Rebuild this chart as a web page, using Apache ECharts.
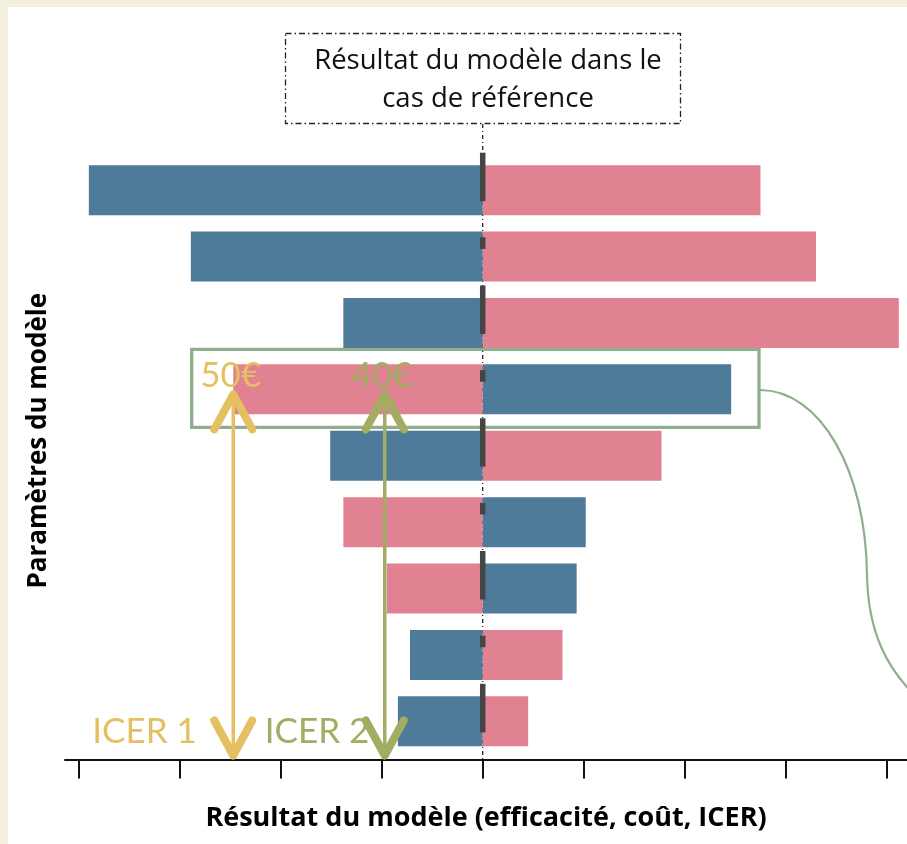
<!DOCTYPE html>
<html>
<head>
<meta charset="utf-8">
<script src="https://cdn.jsdelivr.net/npm/echarts@6/dist/echarts.min.js"></script>
<style>
  html, body { margin: 0; padding: 0; background: #f3efdf; }
  #tornado { width: 907px; height: 844px; }
</style>
</head>
<body>
<div id="tornado"></div>
<script>
// paramètres du modèle (sans étiquette sur le graphique)
const parametres = ['P1', 'P2', 'P3', 'P4', 'P5', 'P6', 'P7', 'P8', 'P9'];
// borne basse (bleu) et borne haute (rose), écart au cas de référence
const borneBleue = [-39.0, -28.9, -13.8, 24.6, -15.1, 10.2, 9.3, -7.2, -8.4];
const borneRose = [27.5, 33.0, 41.2, -24.7, 17.7, -13.8, -9.5, 7.9, 4.5];
const graduations = [-40, -30, -20, -10, 0, 10, 20, 30, 40];
// seuils ICER
const icerValeurs = [-24.7, -9.7];
const icerPrix = ['50€', '40€'];
const icerNoms = ['ICER 1', 'ICER 2'];

const BLEU = '#4d7b99';
const ROSE = '#e08292';
const ICER_COULEURS = ['#e5c063', '#a2ad63'];
const VERT = '#8fae8e';
const FONT = 'Lato';
const FONT_TITRE = 'Open Sans';

const chart = echarts.init(document.getElementById('tornado'));

const option = {
  animation: false,
  backgroundColor: '#f3efdf',
  title: {
    text: 'Résultat du modèle dans le\ncas de référence',
    left: 483,
    top: 37,
    textAlign: 'center',
    textStyle: {
      fontFamily: FONT_TITRE,
      fontSize: 27.5,
      fontWeight: 'normal',
      color: '#111',
      lineHeight: 38,
    },
  },
  grid: { left: 65, right: 0, top: 157, bottom: 89.5 },
  xAxis: {
    type: 'value',
    min: -41.36,
    max: 42.01,
    offset: 5,
    splitLine: { show: false },
    axisLine: { show: true, lineStyle: { color: '#111', width: 2 } },
    axisTick: {
      show: true,
      customValues: graduations,
      length: 19,
      lineStyle: { color: '#111', width: 2 },
    },
    axisLabel: { show: false },
    name: 'Résultat du modèle (efficacité, coût, ICER)',
    nameLocation: 'middle',
    nameGap: 45,
    nameTextStyle: { fontFamily: FONT_TITRE, fontWeight: 'bold', fontSize: 27, color: '#000' },
  },
  yAxis: {
    type: 'category',
    data: parametres,
    inverse: true,
    axisLine: { show: false },
    axisTick: { show: false },
    axisLabel: { show: false },
    name: 'Paramètres du modèle',
    nameLocation: 'middle',
    nameRotate: 90,
    nameGap: 13,
    nameTextStyle: {
      fontFamily: FONT_TITRE,
      fontWeight: 'bold',
      fontSize: 26,
      color: '#000',
      padding: [0, 0, 0, 30],
    },
  },
  graphic: [
    { type: 'rect', z: -10, shape: { x: 8, y: 7, width: 899, height: 837 }, style: { fill: '#fff' } },
    {
      type: 'rect',
      shape: { x: 285.5, y: 33.5, width: 395, height: 90 },
      style: { fill: null, stroke: '#222', lineWidth: 1.3, lineDash: [6, 3, 1.5, 3] },
    },
    {
      type: 'line',
      shape: { x1: 482.7, y1: 124, x2: 482.7, y2: 759 },
      style: { stroke: '#222', lineWidth: 1.3, lineDash: [4, 3, 1, 3] },
    },
    {
      type: 'rect',
      shape: { x: 191.7, y: 349.3, width: 567.3, height: 78 },
      style: { fill: null, stroke: VERT, lineWidth: 3.3 },
    },
    {
      type: 'bezierCurve',
      shape: { x1: 760, y1: 390, cpx1: 820, cpy1: 390, cpx2: 866, cpy2: 470, x2: 867, y2: 575 },
      style: { fill: null, stroke: VERT, lineWidth: 2.2 },
    },
    {
      type: 'bezierCurve',
      shape: { x1: 867, y1: 575, cpx1: 868, cpy1: 630, cpx2: 885, cpy2: 670, x2: 925, y2: 705 },
      style: { fill: null, stroke: VERT, lineWidth: 2.2 },
    },
  ],
  series: [
    {
      name: 'borne bleue',
      type: 'bar',
      data: borneBleue,
      barWidth: 50,
      itemStyle: { color: BLEU },
    },
    {
      name: 'borne rose',
      type: 'bar',
      data: borneRose,
      barWidth: 50,
      barGap: '-100%',
      itemStyle: { color: ROSE },
    },
    {
      // repères du cas de référence sur l'axe central
      name: 'référence',
      type: 'custom',
      z: 4,
      silent: true,
      data: parametres.map((p, i) => [0, i]),
      encode: { x: 0, y: 1 },
      renderItem: function(params, api) {
        const i = api.value(1);
        const p = api.coord([0, i]);
        const band = api.size([0, 1])[1];
        const tall = i % 2 === 0;
        const y0 = p[1] + (tall ? -0.565 : -0.29) * band;
        const y1 = p[1] + (tall ? 0.165 : -0.115) * band;
        return {
          type: 'rect',
          shape: { x: p[0] - 2.75, y: y0, width: 5.5, height: y1 - y0 },
          style: { fill: '#454545' },
        };
      },
    },
    {
      name: 'ICER',
      type: 'custom',
      z: 5,
      silent: true,
      data: icerValeurs.map((v, i) => [v, 3, i]),
      encode: { x: 0, y: 1 },
      renderItem: function(params, api) {
        const k = api.value(2);
        const p = api.coord([api.value(0), api.value(1)]);
        const cs = params.coordSys;
        const x = p[0];
        const yTop = p[1] + 1;
        const yBot = cs.y + cs.height + 5;
        const col = ICER_COULEURS[k];
        const head = { stroke: col, fill: null, lineWidth: 8, lineCap: 'round', lineJoin: 'round' };
        const nameDx = [-141, -120];
        return {
          type: 'group',
          children: [
            { type: 'line', shape: { x1: x, y1: yTop + 4, x2: x, y2: yBot - 4 }, style: { stroke: col, lineWidth: 3.5 } },
            { type: 'polyline', shape: { points: [[x - 19, yTop + 39], [x, yTop + 4], [x + 19, yTop + 39]] }, style: head },
            { type: 'polyline', shape: { points: [[x - 19, yBot - 39], [x, yBot - 4], [x + 19, yBot - 39]] }, style: head },
            {
              type: 'text',
              style: {
                text: icerPrix[k], x: x - 33, y: yTop - 15, verticalAlign: 'middle',
                fill: col, font: 'normal 35px ' + FONT,
              },
            },
            {
              type: 'text',
              style: {
                text: icerNoms[k], x: x + nameDx[k], y: yBot - 28, verticalAlign: 'middle',
                fill: col, font: 'normal 35px ' + FONT,
              },
            },
          ],
        };
      },
    },
  ],
};

chart.setOption(option);
</script>
</body>
</html>
